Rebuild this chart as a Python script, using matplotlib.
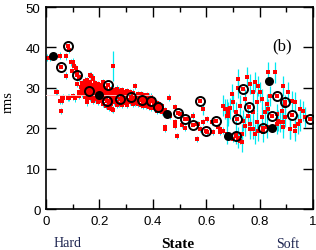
import numpy as np
import matplotlib.pyplot as plt

# ---- datos ----
# puntos rojos (zona dura, errores pequenos)
hard_state = [0.003, 0.015, 0.036, 0.04, 0.052, 0.052, 0.055, 0.059, 0.061, 0.065, 0.074, 0.074,
              0.084, 0.086, 0.086, 0.092, 0.099, 0.102, 0.102, 0.105, 0.107, 0.111, 0.117, 0.117,
              0.124, 0.124, 0.125, 0.13, 0.14, 0.152, 0.165, 0.167, 0.175, 0.215, 0.24, 0.246,
              0.25, 0.333, 0.377, 0.446, 0.462, 0.464, 0.483, 0.483, 0.489, 0.502, 0.52, 0.533,
              0.552, 0.564, 0.57, 0.577, 0.589, 0.602, 0.602, 0.621, 0.627, 0.645, 0.652, 0.664,
              0.446, 0.483, 0.508, 0.564, 0.652, 0.701, 0.727,
              0.135, 0.135, 0.135, 0.135, 0.145, 0.145, 0.145, 0.145, 0.145,
              0.155, 0.155, 0.155, 0.155, 0.155, 0.155, 0.165, 0.165, 0.165, 0.165, 0.165,
              0.175, 0.175, 0.175, 0.175, 0.175, 0.175, 0.185, 0.185, 0.185, 0.185, 0.185,
              0.195, 0.195, 0.195, 0.195, 0.195, 0.205, 0.205, 0.205, 0.205, 0.205,
              0.215, 0.215, 0.215, 0.215, 0.215, 0.225, 0.225, 0.225, 0.225, 0.225,
              0.235, 0.235, 0.235, 0.235, 0.245, 0.245, 0.245, 0.245, 0.245,
              0.255, 0.255, 0.255, 0.255, 0.265, 0.265, 0.265, 0.265, 0.265,
              0.275, 0.275, 0.275, 0.285, 0.285, 0.285, 0.285, 0.285,
              0.295, 0.295, 0.295, 0.295, 0.305, 0.305, 0.305, 0.305, 0.315, 0.315, 0.315,
              0.325, 0.325, 0.325, 0.325, 0.335, 0.335, 0.335, 0.345, 0.345, 0.345, 0.345,
              0.355, 0.355, 0.355, 0.365, 0.365, 0.365, 0.365, 0.375, 0.375, 0.375, 0.375,
              0.385, 0.385, 0.385, 0.385, 0.395, 0.395, 0.405, 0.405, 0.405, 0.415, 0.415,
              0.425, 0.425, 0.425, 0.435, 0.435, 0.435, 0.445, 0.445]
hard_rms = [37.5, 37.5, 28.9, 28.9, 38.0, 26.8, 24.3, 26.8, 27.4, 27.6, 37.8, 33.0,
            27.6, 39.4, 27.6, 36.3, 34.2, 36.5, 27.9, 35.5, 27.4, 34.8, 33.8, 30.9,
            32.6, 28.0, 28.9, 30.1, 29.5, 26.4, 33.2, 33.0, 32.2, 31.4, 25.2, 24.8,
            24.6, 30.5, 28.2, 20.2, 27.6, 23.1, 21.5, 25.2, 18.1, 23.5, 20.0, 22.3,
            23.1, 17.3, 21.0, 19.8, 21.5, 19.0, 22.3, 21.5, 19.0, 20.2, 19.0, 19.4,
            19.8, 20.6, 20.8, 21.0, 19.8, 17.3, 16.9,
            28.5, 29.5, 30.5, 31.2, 27.8, 28.8, 29.8, 30.8, 31.8,
            27.0, 28.0, 29.0, 30.0, 31.0, 32.0, 27.5, 28.5, 29.5, 30.5, 31.5,
            26.8, 27.8, 28.8, 29.8, 30.8, 32.5, 27.2, 28.2, 29.2, 30.2, 31.2,
            26.5, 27.5, 29.5, 30.5, 31.0, 26.8, 27.8, 28.8, 29.8, 30.8,
            26.0, 27.2, 28.2, 29.2, 30.2, 25.5, 27.5, 28.5, 29.5, 30.0,
            25.0, 26.2, 28.0, 29.0, 26.0, 27.0, 28.0, 29.0, 29.8,
            26.5, 27.5, 28.5, 29.5, 25.8, 26.5, 27.8, 28.8, 29.8,
            26.0, 28.5, 29.3, 25.8, 26.8, 27.8, 28.8, 29.5,
            26.2, 27.2, 28.2, 29.0, 25.8, 26.8, 28.5, 29.2, 26.5, 27.0, 29.0,
            26.0, 27.0, 28.2, 28.8, 26.2, 27.2, 28.0, 26.0, 26.8, 27.8, 28.5,
            25.8, 28.0, 28.5, 25.5, 26.5, 27.5, 28.2, 25.5, 26.3, 27.2, 28.0,
            25.2, 26.0, 27.0, 27.8, 25.0, 27.8, 25.0, 26.0, 27.0, 24.3, 26.2,
            24.5, 25.2, 26.0, 24.0, 24.8, 25.5, 23.8, 24.5]
hard_err = 0.8

# punto aislado con barra de error grande
odd_state = [0.252, 0.589]
odd_rms = [35.5, 24.8]
odd_err = [3.7, 1.5]

# puntos rojos (zona blanda, errores grandes)
soft_state = [0.718, 0.72, 0.695, 0.702, 0.689, 0.677, 0.683, 0.711, 0.727, 0.745,
              0.752, 0.764, 0.777, 0.783, 0.795, 0.801, 0.808, 0.789, 0.777, 0.758,
              0.739, 0.745, 0.764, 0.789, 0.808, 0.82, 0.833, 0.826, 0.839, 0.833,
              0.858, 0.889, 0.908, 0.92, 0.933, 0.895, 0.883, 0.87, 0.895, 0.951,
              0.964, 0.97, 0.951, 0.933, 0.914, 0.889, 0.876, 0.864, 0.795, 0.777,
              0.733, 0.711, 0.72, 0.733, 0.677, 0.814, 0.826, 0.764, 0.783, 0.864,
              0.889, 0.914, 0.945, 0.933, 0.67, 0.664, 0.683, 0.677]
soft_rms = [32.2, 29.9, 28.5, 26.4, 24.9, 24.8, 23.1, 23.9, 25.6, 27.2,
            32.6, 30.9, 28.9, 31.4, 30.5, 28.9, 27.2, 26.4, 23.9, 23.1,
            21.9, 20.6, 21.0, 21.5, 22.7, 23.9, 24.8, 26.0, 28.0, 33.8,
            33.8, 30.5, 28.9, 26.8, 26.4, 25.6, 24.3, 21.9, 22.7, 24.8,
            24.3, 22.7, 21.9, 20.6, 19.8, 20.2, 21.5, 23.5, 19.4, 19.8,
            18.6, 18.6, 17.7, 16.5, 18.6, 19.0, 20.2, 19.8, 18.6, 21.0,
            21.5, 19.8, 21.0, 19.4, 24.8, 25.6, 23.9, 23.1]
soft_err = 2.5

# promedios: circulos abiertos
open_state = [0.055, 0.084, 0.117, 0.16, 0.233, 0.23, 0.277, 0.32, 0.358, 0.394,
              0.418, 0.493, 0.52, 0.55, 0.578, 0.601, 0.638, 0.711, 0.716, 0.737,
              0.76, 0.812, 0.848, 0.867, 0.895, 0.922, 0.987]
open_rms = [35.1, 40.4, 33.2, 29.2, 30.7, 26.7, 27.2, 27.8, 27.0, 26.7,
            25.2, 23.7, 22.2, 20.7, 26.8, 19.3, 21.7, 18.0, 22.4, 29.8,
            25.3, 20.0, 23.1, 28.0, 26.6, 23.3, 22.3]

# circulos rellenos
filled_state = [0.027, 0.197, 0.453, 0.68, 0.835, 0.848]
filled_rms = [37.9, 28.3, 23.6, 18.1, 31.7, 20.1]
filled_xerr = [0.0, 0.2, 0.0, 0.0, 0.0, 0.0]

# ---- figura ----
fig = plt.figure(figsize=(3.16, 2.51), dpi=100)
ax = fig.add_axes([0.1456, 0.1633, 0.8449, 0.8047])

ax.errorbar(soft_state, soft_rms, yerr=soft_err, fmt='none', ecolor='#00e8f0', elinewidth=0.9, zorder=1)
ax.errorbar(odd_state, odd_rms, yerr=odd_err, fmt='none', ecolor='#00e8f0', elinewidth=0.9, zorder=1)
ax.errorbar(hard_state, hard_rms, yerr=hard_err, fmt='none', ecolor='#00e8f0', elinewidth=0.7, zorder=1)

ax.plot(hard_state, hard_rms, 's', color='red', ms=2.4, mew=0, zorder=2)
ax.plot(soft_state, soft_rms, 's', color='red', ms=2.4, mew=0, zorder=2)
ax.plot(odd_state, odd_rms, 's', color='red', ms=2.4, mew=0, zorder=2)

ax.errorbar(filled_state, filled_rms, xerr=filled_xerr, fmt='none', ecolor='#ffd8d8', elinewidth=0.6, zorder=3)
ax.plot(open_state, open_rms, 'o', mfc='none', mec='black', mew=1.4, ms=6.5, zorder=4)
ax.plot(open_state, open_rms, 's', color='red', ms=2.4, mew=0, zorder=4)
ax.plot(filled_state, filled_rms, 'o', color='black', ms=6.5, mew=0, zorder=4)

ax.set_xlim(0, 1)
ax.set_ylim(0, 50)
ax.set_xticks([0, 0.2, 0.4, 0.6, 0.8, 1])
ax.set_xticklabels(['0', '0.2', '0.4', '0.6', '0.8', '1'])
ax.set_xticks([0.1, 0.3, 0.5, 0.7, 0.9], minor=True)
ax.set_yticks([0, 10, 20, 30, 40, 50])

ax.tick_params(which='both', direction='in', top=True, right=True, width=1.0,
               labelsize=9.5, pad=4)
ax.tick_params(which='major', length=7)
ax.tick_params(which='minor', length=3.5)
for lbl in ax.get_xticklabels() + ax.get_yticklabels():
    lbl.set_family('Liberation Sans')
for s in ax.spines.values():
    s.set_linewidth(1.2)

ax.text(0.885, 40.6, '(b)', fontsize=12, family='Liberation Serif', ha='center', va='center')
fig.text(8 / 316, 1 - 102 / 251, 'rms', rotation=90, fontsize=10.5, family='Liberation Serif',
         ha='center', va='center')
fig.text(178 / 316, 1 - 245 / 251, 'State', fontsize=11, family='Liberation Serif',
         ha='center', va='center', fontweight='bold')
fig.text(68 / 316, 1 - 244 / 251, 'Hard', fontsize=10, family='Liberation Serif',
         ha='center', va='center', color='#1c2450')
fig.text(288 / 316, 1 - 245 / 251, 'Soft', fontsize=10, family='Liberation Serif',
         ha='center', va='center', color='#1c2450')

fig.savefig('out.png', dpi=100)
